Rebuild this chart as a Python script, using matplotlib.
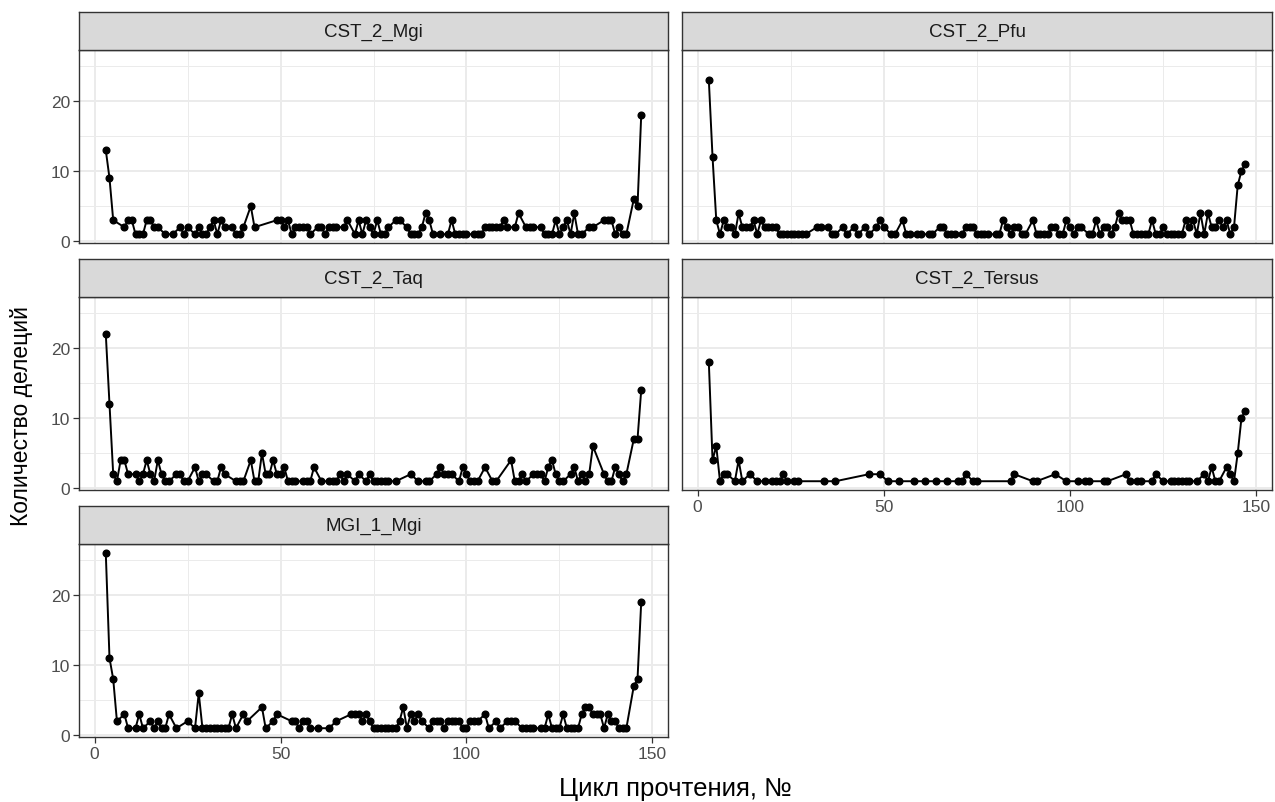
import matplotlib
matplotlib.use("Agg")
import matplotlib.pyplot as plt

plt.rcParams["font.family"] = ["Liberation Sans", "DejaVu Sans"]

# ── data: read cycle № → number of deletions, per library ────────────────

panel_names = ["CST_2_Mgi", "CST_2_Pfu", "CST_2_Taq", "CST_2_Tersus", "MGI_1_Mgi"]

mgi_cycle = [3, 4, 5, 8, 9, 10, 11, 12, 13, 14,
             15, 16, 17, 19, 21, 23, 24, 25, 27, 28,
             29, 30, 31, 32, 33, 34, 35, 37, 38, 39,
             40, 42, 43, 49, 50, 51, 52, 53, 54, 55,
             56, 57, 58, 60, 61, 62, 63, 64, 65, 67,
             68, 70, 71, 72, 73, 74, 75, 76, 77, 78,
             79, 81, 82, 84, 85, 86, 87, 88, 89, 90,
             91, 93, 95, 96, 97, 98, 99, 100, 102, 103,
             104, 105, 106, 107, 108, 109, 110, 111, 113, 114,
             116, 117, 118, 120, 121, 122, 123, 124, 125, 126,
             127, 128, 129, 130, 131, 133, 134, 137, 138, 139,
             140, 141, 142, 143, 145, 146, 147]
mgi_count = [13, 9, 3, 2, 3, 3, 1, 1, 1, 3,
             3, 2, 2, 1, 1, 2, 1, 2, 1, 2,
             1, 1, 2, 3, 1, 3, 2, 2, 1, 1,
             2, 5, 2, 3, 3, 2, 3, 1, 2, 2,
             2, 2, 1, 2, 2, 1, 2, 2, 2, 2,
             3, 1, 3, 1, 3, 2, 1, 3, 1, 1,
             2, 3, 3, 2, 1, 1, 1, 2, 4, 3,
             1, 1, 1, 3, 1, 1, 1, 1, 1, 1,
             1, 2, 2, 2, 2, 2, 3, 2, 2, 4,
             2, 2, 2, 2, 1, 1, 1, 3, 1, 2,
             3, 1, 4, 1, 1, 2, 2, 3, 3, 3,
             1, 2, 1, 1, 6, 5, 18]

pfu_cycle = [3, 4, 5, 6, 7, 8, 9, 10, 11, 12,
             13, 14, 15, 16, 17, 18, 19, 20, 21, 22,
             23, 24, 25, 26, 27, 28, 29, 32, 33, 35,
             36, 37, 39, 40, 42, 43, 45, 46, 48, 49,
             50, 52, 53, 55, 56, 57, 59, 60, 62, 63,
             65, 66, 67, 68, 69, 71, 72, 73, 74, 75,
             76, 77, 78, 80, 81, 82, 83, 84, 85, 86,
             87, 88, 90, 91, 92, 93, 94, 95, 96, 97,
             98, 99, 100, 101, 102, 103, 105, 106, 107, 108,
             109, 110, 111, 112, 113, 114, 115, 116, 117, 118,
             119, 120, 121, 122, 123, 124, 125, 126, 127, 128,
             129, 130, 131, 132, 133, 134, 135, 136, 137, 138,
             139, 140, 141, 142, 143, 144, 145, 146, 147]
pfu_count = [23, 12, 3, 1, 3, 2, 2, 1, 4, 2,
             2, 2, 3, 1, 3, 2, 2, 2, 2, 1,
             1, 1, 1, 1, 1, 1, 1, 2, 2, 2,
             1, 1, 2, 1, 2, 1, 2, 1, 2, 3,
             2, 1, 1, 3, 1, 1, 1, 1, 1, 1,
             2, 2, 1, 1, 1, 1, 2, 2, 2, 1,
             1, 1, 1, 1, 1, 3, 2, 1, 2, 2,
             1, 1, 3, 1, 1, 1, 1, 2, 2, 1,
             1, 3, 2, 1, 2, 2, 1, 1, 3, 1,
             2, 2, 1, 2, 4, 3, 3, 3, 1, 1,
             1, 1, 1, 3, 1, 1, 2, 1, 1, 1,
             1, 1, 3, 2, 3, 1, 4, 1, 4, 2,
             2, 3, 2, 3, 1, 2, 8, 10, 11]

taq_cycle = [3, 4, 5, 6, 7, 8, 9, 11, 12, 13,
             14, 15, 16, 17, 18, 19, 20, 22, 23, 24,
             25, 27, 28, 29, 30, 32, 33, 34, 35, 38,
             39, 40, 42, 43, 44, 45, 46, 47, 48, 49,
             50, 51, 52, 53, 54, 56, 57, 58, 59, 61,
             63, 64, 65, 66, 67, 68, 70, 71, 73, 74,
             75, 76, 77, 78, 79, 81, 85, 87, 89, 90,
             92, 93, 94, 95, 96, 98, 99, 100, 101, 102,
             103, 105, 107, 108, 112, 113, 114, 115, 116, 118,
             119, 120, 121, 122, 123, 124, 125, 126, 128, 129,
             130, 131, 132, 133, 134, 137, 138, 139, 140, 141,
             142, 143, 145, 146, 147]
taq_count = [22, 12, 2, 1, 4, 4, 2, 2, 1, 2,
             4, 2, 1, 4, 2, 1, 1, 2, 2, 1,
             1, 3, 1, 2, 2, 1, 1, 3, 2, 1,
             1, 1, 4, 1, 1, 5, 2, 2, 4, 2,
             2, 3, 1, 1, 1, 1, 1, 1, 3, 1,
             1, 1, 1, 2, 1, 2, 1, 2, 1, 2,
             1, 1, 1, 1, 1, 1, 2, 1, 1, 1,
             2, 3, 2, 2, 2, 1, 3, 2, 1, 1,
             1, 3, 1, 1, 4, 1, 1, 2, 1, 2,
             2, 2, 1, 3, 4, 2, 1, 1, 2, 3,
             1, 2, 1, 2, 6, 2, 1, 1, 3, 2,
             1, 2, 7, 7, 14]

tersus_cycle = [3, 4, 5, 6, 7, 8, 10, 11, 12, 14,
                16, 18, 20, 21, 22, 23, 24, 26, 27, 34,
                37, 46, 49, 51, 54, 58, 61, 64, 67, 70,
                71, 72, 74, 75, 84, 85, 90, 91, 96, 99,
                102, 104, 105, 109, 110, 115, 116, 118, 119, 122,
                123, 125, 127, 128, 129, 130, 131, 132, 134, 136,
                137, 138, 139, 140, 142, 143, 144, 145, 146, 147]
tersus_count = [18, 4, 6, 1, 2, 2, 1, 4, 1, 2,
                1, 1, 1, 1, 1, 2, 1, 1, 1, 1,
                1, 2, 2, 1, 1, 1, 1, 1, 1, 1,
                1, 2, 1, 1, 1, 2, 1, 1, 2, 1,
                1, 1, 1, 1, 1, 2, 1, 1, 1, 1,
                2, 1, 1, 1, 1, 1, 1, 1, 1, 2,
                1, 3, 1, 1, 3, 2, 1, 5, 10, 11]

mgi1_cycle = [3, 4, 5, 6, 8, 9, 11, 12, 13, 15,
              16, 17, 18, 19, 20, 22, 25, 27, 28, 29,
              30, 31, 32, 33, 34, 35, 36, 37, 38, 40,
              41, 45, 46, 48, 49, 53, 54, 55, 56, 57,
              58, 60, 63, 65, 69, 70, 71, 72, 73, 74,
              75, 76, 77, 78, 79, 80, 81, 82, 83, 84,
              85, 86, 87, 88, 90, 91, 92, 93, 94, 95,
              96, 97, 98, 99, 100, 101, 102, 103, 105, 106,
              108, 109, 111, 112, 113, 115, 116, 117, 118, 120,
              121, 122, 123, 124, 125, 126, 127, 128, 129, 130,
              131, 132, 133, 134, 135, 136, 137, 138, 139, 140,
              141, 142, 143, 145, 146, 147]
mgi1_count = [26, 11, 8, 2, 3, 1, 1, 3, 1, 2,
              1, 2, 1, 1, 3, 1, 2, 1, 6, 1,
              1, 1, 1, 1, 1, 1, 1, 3, 1, 3,
              2, 4, 1, 2, 3, 2, 2, 1, 2, 2,
              1, 1, 1, 2, 3, 3, 3, 2, 3, 2,
              1, 1, 1, 1, 1, 1, 1, 2, 4, 1,
              3, 2, 3, 2, 1, 2, 2, 2, 1, 2,
              2, 2, 2, 1, 1, 2, 2, 2, 3, 1,
              2, 1, 2, 2, 2, 1, 1, 1, 1, 1,
              1, 3, 1, 1, 1, 3, 1, 1, 1, 1,
              3, 4, 4, 3, 3, 3, 1, 3, 2, 2,
              1, 1, 1, 7, 8, 19]

series = [(mgi_cycle, mgi_count), (pfu_cycle, pfu_count), (taq_cycle, taq_count),
          (tersus_cycle, tersus_count), (mgi1_cycle, mgi1_count)]

x_ticks = [0, 50, 100, 150]
y_ticks = [0, 10, 20]

# ── layout (pixel boxes of the ggplot facet_wrap, theme_bw) ──────────────

W, H = 1275, 803
cols = [(79, 668), (682, 1272)]
rows = [(51, 244), (298, 491), (545, 738)]
STRIP_H = 38

# shared scales like ggplot: 5% expansion around the pooled data range
all_x = [v for xs, _ in series for v in xs]
all_y = [v for _, ys in series for v in ys]
xpad = 0.05 * (max(all_x) - min(all_x))
ypad = 0.05 * (max(all_y) - min(all_y))
xlim = (min(all_x) - xpad, max(all_x) + xpad)
ylim = (min(all_y) - ypad, max(all_y) + ypad)

GRID_MAJ = "#EBEBEB"
BORDER = "#333333"

fig = plt.figure(figsize=(W / 100, H / 100), dpi=100)


def px_box(x0, x1, y0, y1):
    return [x0 / W, 1 - y1 / H, (x1 - x0) / W, (y1 - y0) / H]


for i, (name, (xs, ys)) in enumerate(zip(panel_names, series)):
    r, c = divmod(i, 2)
    (x0, x1), (y0, y1) = cols[c], rows[r]

    ax = fig.add_axes(px_box(x0, x1, y0, y1))
    ax.set_xlim(xlim)
    ax.set_ylim(ylim)

    for v in [25, 75, 125]:
        ax.axvline(v, color=GRID_MAJ, lw=0.7, zorder=0)
    for v in [5, 15, 25]:
        ax.axhline(v, color=GRID_MAJ, lw=0.7, zorder=0)
    for v in x_ticks:
        ax.axvline(v, color=GRID_MAJ, lw=1.4, zorder=0)
    for v in y_ticks:
        ax.axhline(v, color=GRID_MAJ, lw=1.4, zorder=0)

    ax.plot(xs, ys, color="black", lw=1.4, marker="o", ms=4.8, zorder=3)

    ax.set_xticks(x_ticks)
    ax.set_yticks(y_ticks)
    for sp in ax.spines.values():
        sp.set_color(BORDER)
        sp.set_linewidth(1.0)
    ax.tick_params(colors=BORDER, length=4, width=0.9, pad=2.5,
                   labelsize=12.5, labelcolor="#4D4D4D")

    bottom_panel = (r == 2) or (r == 1 and c == 1)
    ax.tick_params(axis="x", labelbottom=bottom_panel, bottom=bottom_panel)
    ax.tick_params(axis="y", labelleft=(c == 0), left=(c == 0))

    # facet strip
    st = fig.add_axes(px_box(x0, x1, y0 - STRIP_H, y0))
    st.set_facecolor("#D9D9D9")
    st.set_xticks([])
    st.set_yticks([])
    for sp in st.spines.values():
        sp.set_color(BORDER)
        sp.set_linewidth(1.0)
    st.text(0.5, 0.5, name, ha="center", va="center", fontsize=13.5,
            color="#1A1A1A", transform=st.transAxes)

fig.text(675 / W, 1 - 789 / H, "Цикл прочтения, №", ha="center", va="center",
         fontsize=18.5)
fig.text(22 / W, 1 - 416 / H, "Количество делеций", ha="center", va="center",
         rotation=90, fontsize=16.5)

fig.savefig("out.png", dpi=100)
